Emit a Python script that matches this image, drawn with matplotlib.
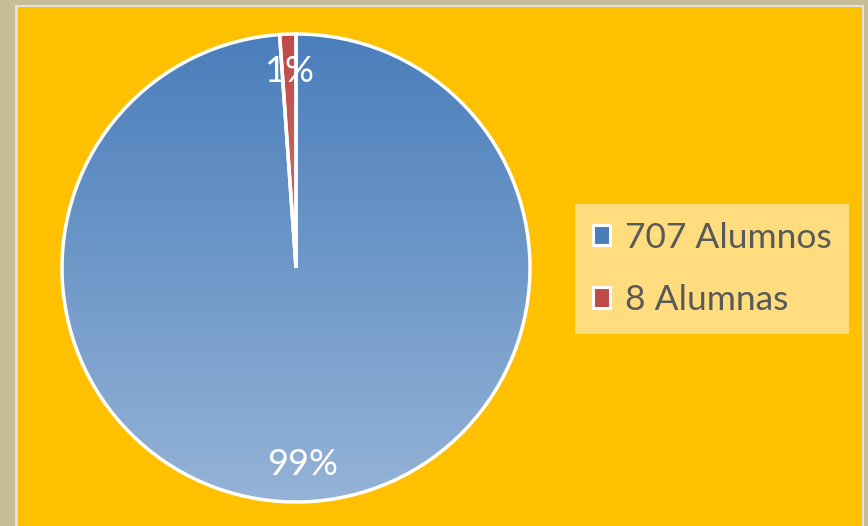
import matplotlib
matplotlib.use("Agg")
import matplotlib.pyplot as plt
import numpy as np
from matplotlib.patches import Rectangle, Patch
from matplotlib.colors import LinearSegmentedColormap

labels = ["707 Alumnos", "8 Alumnas"]
values = [707, 8]
top_colors = ["#4A7EBB", "#BE4B48"]
bottom_colors = ["#95B3D7", "#D99694"]

W, H = 868, 526
fig = plt.figure(figsize=(W / 100, H / 100), dpi=100)
fig.patch.set_facecolor("#C4BD97")

# background frame (pixel coords)
bg = fig.add_axes([0, 0, 1, 1])
bg.set_xlim(0, W)
bg.set_ylim(H, 0)
bg.axis("off")
bg.add_patch(Rectangle((15, 5), 849, 530, facecolor="#E2E2E2", edgecolor="none"))
bg.add_patch(Rectangle((18, 7), 844, 530, facecolor="#FFC000", edgecolor="none"))

cx, cy, r = 296, 268, 234
ax = fig.add_axes([(cx - r) / W, (H - cy - r) / H, 2 * r / W, 2 * r / H])
ax.set_xlim(-1, 1)
ax.set_ylim(-1, 1)
ax.axis("off")

wedges, texts, autotexts = ax.pie(
    values, startangle=90, counterclock=False, radius=1,
    autopct="%.0f%%", pctdistance=0.84,
    wedgeprops=dict(facecolor="none", edgecolor="white", linewidth=2.5),
    textprops=dict(color="white", fontsize=26, family=["Lato", "DejaVu Sans"]),
    frame=False,
)
ax.set_xlim(-1, 1)
ax.set_ylim(-1, 1)
ax.set_aspect("auto")

grad = np.linspace(0, 1, 256).reshape(-1, 1)
for w, c0, c1 in zip(wedges, top_colors, bottom_colors):
    cmap = LinearSegmentedColormap.from_list("g", [c0, c1])
    im = ax.imshow(grad, extent=[-1, 1, -1, 1], origin="upper", cmap=cmap,
                   aspect="auto", zorder=0)
    im.set_clip_path(w)
    w.set_zorder(1)
for t in autotexts:
    t.set_zorder(3)

handles = [Patch(facecolor=c, edgecolor="white", linewidth=2.2) for c in top_colors]
leg = fig.legend(handles, labels, loc="center left",
                 bbox_to_anchor=(575 / W, (H - 269) / H),
                 frameon=True, fancybox=False, framealpha=1,
                 facecolor="#FFDD7F", edgecolor="none",
                 prop=dict(family=["Lato", "DejaVu Sans"], size=25.5),
                 handlelength=0.5, handleheight=0.5, handletextpad=0.4,
                 labelspacing=0.85, borderpad=0.5, borderaxespad=0)
for t in leg.get_texts():
    t.set_color("#595959")

fig.savefig("out.png", dpi=100, facecolor=fig.get_facecolor())
